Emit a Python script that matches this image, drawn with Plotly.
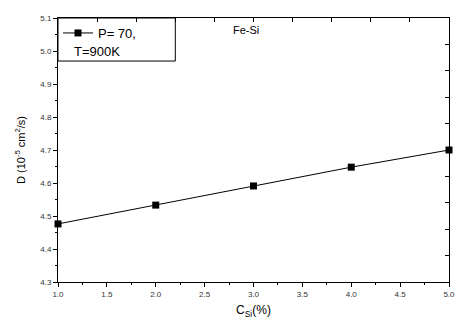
import plotly.graph_objects as go

c_si = [1.0, 2.0, 3.0, 4.0, 5.0]
d_vals = [4.476, 4.533, 4.591, 4.648, 4.700]
series_name = "P= 70,"
series_name_line2 = "T=900K"
label_alloy = "Fe-Si"

font_family = "Liberation Sans, Arial, sans-serif"

fig = go.Figure()
fig.add_trace(go.Scatter(
    x=c_si, y=d_vals, mode="lines+markers", name=series_name,
    line=dict(color="black", width=1),
    marker=dict(symbol="square", size=7, color="black"),
    cliponaxis=False,
))
# invisible trace for top/right axes
fig.add_trace(go.Scatter(x=[1.0, 5.0], y=[4.3, 5.1], xaxis="x2", yaxis="y2",
                         mode="markers", marker=dict(opacity=0), showlegend=False,
                         hoverinfo="skip"))

tickfont = dict(family=font_family, size=8, color="#333")
fig.update_layout(
    width=464, height=325,
    margin=dict(l=58, r=9, t=18, b=43),
    paper_bgcolor="white", plot_bgcolor="white",
    font=dict(family=font_family, color="black"),
    showlegend=True,
    legend=dict(x=0.0, y=1.0, xanchor="left", yanchor="top",
                borderwidth=0, bgcolor="rgba(0,0,0,0)",
                font=dict(family=font_family, size=13, color="black"),
                itemwidth=30),
    xaxis=dict(range=[1.0, 5.0], dtick=0.5, tick0=1.0, tickformat=".1f",
               ticks="outside", ticklen=4, tickcolor="black", showgrid=False,
               zeroline=False, showline=True, linecolor="black", linewidth=1,
               minor=dict(dtick=0.25, ticks="outside", ticklen=2, tickcolor="black"),
               tickfont=tickfont,
               title=dict(text="C<sub>Si</sub>(%)", font=dict(size=12), standoff=8)),
    yaxis=dict(range=[4.3, 5.1], dtick=0.1, tick0=4.3, tickformat=".1f",
               ticks="outside", ticklen=4, tickcolor="black", showgrid=False,
               zeroline=False, showline=True, linecolor="black", linewidth=1,
               minor=dict(dtick=0.05, ticks="outside", ticklen=2, tickcolor="black"),
               tickfont=tickfont,
               title=dict(text="D (10<sup>-5</sup> cm<sup>2</sup>/s)", font=dict(size=11), standoff=12)),
    xaxis2=dict(range=[1.0, 5.0], overlaying="x", side="top", dtick=0.4, tick0=1.0,
                ticks="inside", ticklen=4, tickcolor="black", showticklabels=False,
                showgrid=False, zeroline=False, showline=True, linecolor="black", linewidth=1),
    yaxis2=dict(range=[4.3, 5.1], overlaying="y", side="right", dtick=0.08, tick0=4.3,
                ticks="inside", ticklen=4, tickcolor="black", showticklabels=False,
                showgrid=False, zeroline=False, showline=True, linecolor="black", linewidth=1),
    shapes=[dict(type="rect", xref="paper", yref="paper",
                 x0=0.0, x1=0.30, y0=0.837, y1=1.0,
                 line=dict(color="black", width=1), fillcolor="rgba(0,0,0,0)")],
    annotations=[
        dict(text=label_alloy, x=2.77, y=5.064, xref="x", yref="y",
             xanchor="left", yanchor="middle", showarrow=False,
             font=dict(family=font_family, size=11, color="black")),
        dict(text=series_name_line2, x=0.035, y=0.875, xref="paper", yref="paper",
             xanchor="left", yanchor="middle", showarrow=False,
             font=dict(family=font_family, size=13, color="black")),
    ],
)

fig.write_html("out.html")
